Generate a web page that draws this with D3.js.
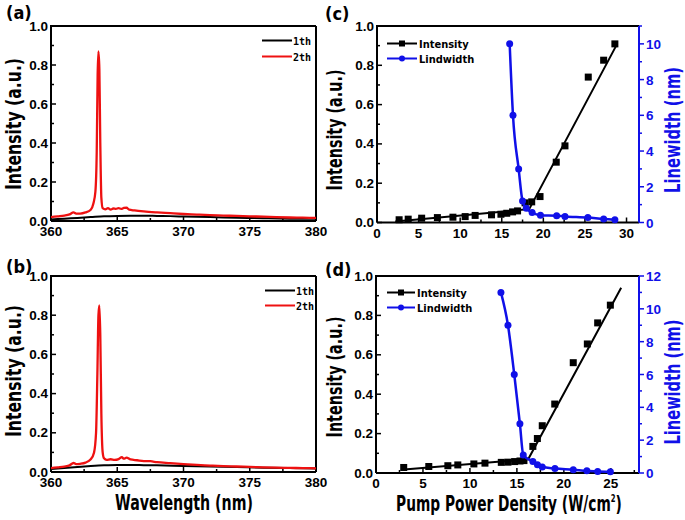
<!DOCTYPE html>
<html><head><meta charset="utf-8">
<script src="https://cdn.jsdelivr.net/npm/d3@7"></script>
<style>
html,body{margin:0;padding:0;background:#fff;}
svg text{font-family:"Liberation Sans",Arial,sans-serif;}
</style></head>
<body>
<svg id="chart" width="685" height="520"></svg>
<script>
// ---------- DATA ----------
// (a) spectra
const wlA2 = [360,360.5,361,361.4,361.7,361.9,362.2,362.6,363.0,363.2,363.35,363.45,363.52,363.58,363.65,363.72,363.8,363.9,364.1,364.3,364.5,364.7,364.9,365.1,365.3,365.5,365.7,365.9,366.3,367,368,369,370,371,372,373,374,375,376,377,378,379,380];
const intA2 = [0.02,0.024,0.028,0.034,0.044,0.038,0.038,0.044,0.058,0.09,0.15,0.35,0.75,0.87,0.78,0.4,0.12,0.066,0.06,0.066,0.058,0.064,0.062,0.066,0.062,0.067,0.068,0.058,0.054,0.049,0.044,0.04,0.036,0.033,0.03,0.028,0.026,0.024,0.022,0.02,0.018,0.017,0.016];
const wlA1 = [360,361,362,363,364,365,366,367,368,369,370,372,374,376,378,380];
const intA1 = [0.008,0.012,0.016,0.02,0.024,0.026,0.027,0.027,0.026,0.025,0.023,0.02,0.017,0.014,0.012,0.011];
// (b) spectra
const wlB2 = [360,360.5,361,361.4,361.7,361.9,362.2,362.6,363.0,363.25,363.4,363.5,363.58,363.65,363.72,363.8,363.9,364.0,364.2,364.5,364.8,365.1,365.35,365.5,365.7,366,366.5,367,367.5,368,369,370,371,372,373,374,375,376,377,378,379,380];
const intB2 = [0.02,0.024,0.028,0.034,0.046,0.04,0.042,0.048,0.065,0.1,0.2,0.5,0.8,0.85,0.7,0.3,0.1,0.07,0.062,0.065,0.062,0.066,0.076,0.068,0.073,0.064,0.06,0.056,0.055,0.05,0.045,0.04,0.036,0.033,0.03,0.028,0.026,0.024,0.022,0.021,0.02,0.019];
const wlB1 = [360,361,362,363,364,365,366,367,368,370,372,374,376,378,380];
const intB1 = [0.015,0.02,0.025,0.03,0.034,0.036,0.036,0.035,0.034,0.031,0.028,0.025,0.022,0.02,0.018];
// (c) intensity & linewidth vs pump
const powerC = [2.66,3.75,5.37,7.26,9.13,10.6,11.8,13.77,14.9,15.6,16.3,16.9,17.8,18.6,19.6,21.55,22.6,25.4,27.25,28.6];
const intensC = [0.014,0.017,0.022,0.025,0.027,0.03,0.036,0.039,0.042,0.047,0.054,0.059,0.10,0.105,0.132,0.307,0.39,0.74,0.826,0.909];
const fitPowerC = [2.2,18.3,28.7];
const fitIntC = [0.005,0.068,0.895];
const lwPowerC = [15.95,16.35,17.03,17.5,17.95,18.65,19.65,21.6,22.6,25.35,27.25,28.6];
const lwC = [10,6,3,1.2,0.8,0.56,0.41,0.38,0.34,0.28,0.19,0.15];
// (d)
const powerD = [2.95,5.62,7.65,8.71,10.42,11.6,13.34,14.05,14.76,15.33,15.75,16.7,17.18,17.7,19.03,21.0,22.5,23.6,24.95];
const intensD = [0.028,0.033,0.037,0.041,0.046,0.05,0.054,0.055,0.058,0.061,0.063,0.135,0.175,0.24,0.35,0.56,0.655,0.762,0.852];
const fitPowerD = [3.0,16.2,26.1];
const fitIntD = [0.018,0.07,0.94];
const lwPowerD = [13.3,14.05,14.72,15.32,15.68,16.7,17.19,17.7,19.05,21.0,22.45,23.6,24.95];
const lwD = [11,9,6,3,1.1,0.7,0.5,0.36,0.28,0.2,0.13,0.09,0.08];
// ticks
const wlTicks = [360,365,370,375,380];
const intTicks = [0,0.2,0.4,0.6,0.8,1.0];
const powerTicksC = [0,5,10,15,20,25,30];
const powerTicksD = [0,5,10,15,20,25];
const lwTicksC = [0,2,4,6,8,10];
const lwTicksD = [0,2,4,6,8,10,12];

// ---------- DRAW ----------
const svg = d3.select("#chart");
const BLUE = "#1010e8", RED = "#ee1111";
const narrow = '"Liberation Sans Narrow","Arial Narrow","DejaVu Sans Condensed",sans-serif';

function fitLabel(x, y, rot, txt, len, size, color, sup) {
  const g = svg.append("g");
  const t = g.append("text").attr("text-anchor","middle")
    .style("font-family", narrow).style("font-weight","bold")
    .style("font-size", size+"px").attr("fill", color || "#000");
  t.append("tspan").text(txt);
  if (sup) {
    t.append("tspan").attr("dy",-9).style("font-size",(size*0.5)+"px").text(sup);
    t.append("tspan").attr("dy",9).text(")");
  }
  const w = t.node().getBBox().width;
  g.attr("transform", `translate(${x},${y}) rotate(${rot}) scale(${len/w},1)`);
}

function panel(o) {
  const x = d3.scaleLinear().domain(o.xDom).range([o.L, o.R]);
  const y = d3.scaleLinear().domain([0,1]).range([o.B, o.T]);
  const g = svg.append("g");
  const minorX = [];
  for (let i = 0; i < o.xTicks.length - 1; i++) minorX.push((o.xTicks[i]+o.xTicks[i+1])/2);
  if (o.xMinorExtra) minorX.push(...o.xMinorExtra);
  g.selectAll(".mx").data(minorX).join("line")
    .attr("x1", d=>x(d)).attr("x2", d=>x(d)).attr("y1", o.B).attr("y2", o.B-3)
    .attr("stroke","#000").attr("stroke-width",1.5);
  g.selectAll(".Mx").data(o.xTicks).join("line")
    .attr("x1", d=>x(d)).attr("x2", d=>x(d)).attr("y1", o.B).attr("y2", o.B-5)
    .attr("stroke","#000").attr("stroke-width",1.5);
  const minorY = [0.1,0.3,0.5,0.7,0.9];
  g.selectAll(".my").data(minorY).join("line")
    .attr("x1", o.L).attr("x2", o.L+3).attr("y1", d=>y(d)).attr("y2", d=>y(d))
    .attr("stroke","#000").attr("stroke-width",1.5);
  g.selectAll(".My").data(intTicks).join("line")
    .attr("x1", o.L).attr("x2", o.L+5).attr("y1", d=>y(d)).attr("y2", d=>y(d))
    .attr("stroke","#000").attr("stroke-width",1.5);
  g.selectAll(".xl").data(o.xTicks).join("text")
    .attr("x", d=>x(d)).attr("y", o.B+15).attr("text-anchor","middle")
    .style("font-size","13.5px").style("font-weight","bold").text(d=>d);
  g.selectAll(".yl").data(intTicks).join("text")
    .attr("x", o.L-3).attr("y", d=>y(d)+4.5).attr("text-anchor","end")
    .style("font-size","13.5px").style("font-weight","bold").text(d=>d.toFixed(1));
  g.append("path").attr("d", `M${o.L},${o.B}H${o.R}`).attr("stroke","#000").attr("stroke-width",2);
  g.append("path").attr("d", `M${o.L},${o.B}V${o.T}H${o.R}`).attr("fill","none").attr("stroke","#000").attr("stroke-width",2);
  g.append("path").attr("d", `M${o.R},${o.T}V${o.B}`).attr("stroke", o.y2 ? BLUE : "#000").attr("stroke-width",2);
  return {x, y, g};
}

function spectrum(p, wl, val, color, w) {
  p.g.append("path").datum(d3.zip(wl, val))
    .attr("d", d3.line().x(d=>p.x(d[0])).y(d=>p.y(d[1])).curve(d3.curveMonotoneX))
    .attr("fill","none").attr("stroke", color).attr("stroke-width", w).attr("stroke-linejoin","round");
}

function specLegend(x, y1, y2) {
  [[y1,"#000","1th"],[y2,RED,"2th"]].forEach(([yy,c,t])=>{
    svg.append("line").attr("x1",x).attr("x2",x+30).attr("y1",yy).attr("y2",yy).attr("stroke",c).attr("stroke-width",2);
    svg.append("text").attr("x",x+31).attr("y",yy+4).style("font-family",'"DejaVu Sans Mono",monospace')
      .style("font-size","10px").style("font-weight","bold").text(t);
  });
}

// (a)
const pA = panel({L:51,R:316,T:26,B:221,xDom:[360,380],xTicks:wlTicks});
spectrum(pA, wlA1, intA1, "#000", 2);
spectrum(pA, wlA2, intA2, RED, 2.3);
specLegend(262, 40.5, 56.5);
// (b)
const pB = panel({L:51,R:316,T:276,B:472,xDom:[360,380],xTicks:wlTicks});
spectrum(pB, wlB1, intB1, "#000", 2);
spectrum(pB, wlB2, intB2, RED, 2.3);
specLegend(265, 290.5, 305.5);

function pumpPanel(o) {
  const p = panel(Object.assign({y2:true}, o));
  const y2 = d3.scaleLinear().domain(o.y2Dom).range([o.B, o.T]);
  const minorY2 = [];
  for (let i = 0; i < o.y2Ticks.length - 1; i++) minorY2.push((o.y2Ticks[i]+o.y2Ticks[i+1])/2);
  if (o.y2Dom[1] > o.y2Ticks[o.y2Ticks.length-1]) minorY2.push(o.y2Ticks[o.y2Ticks.length-1]+1);
  p.g.selectAll(".m2").data(minorY2).join("line")
    .attr("x1", o.R).attr("x2", o.R+3).attr("y1", d=>y2(d)).attr("y2", d=>y2(d))
    .attr("stroke",BLUE).attr("stroke-width",1.5);
  p.g.selectAll(".M2").data(o.y2Ticks).join("line")
    .attr("x1", o.R).attr("x2", o.R+5).attr("y1", d=>y2(d)).attr("y2", d=>y2(d))
    .attr("stroke",BLUE).attr("stroke-width",1.5);
  p.g.selectAll(".l2").data(o.y2Ticks).join("text")
    .attr("x", o.R+7).attr("y", d=>y2(d)+5).attr("fill",BLUE)
    .style("font-size","13.5px").style("font-weight","bold").text(d=>d);
  p.g.append("path").datum(d3.zip(o.fitX, o.fitY))
    .attr("d", d3.line().x(d=>p.x(d[0])).y(d=>p.y(d[1])))
    .attr("fill","none").attr("stroke","#000").attr("stroke-width",2);
  p.g.selectAll(".sq").data(d3.zip(o.px, o.py)).join("rect")
    .attr("x", d=>p.x(d[0])-3.5).attr("y", d=>p.y(d[1])-3.5).attr("width",7).attr("height",7).attr("fill","#000");
  p.g.append("path").datum(d3.zip(o.lx, o.ly))
    .attr("d", d3.line().x(d=>p.x(d[0])).y(d=>y2(d[1])).curve(d3.curveMonotoneX))
    .attr("fill","none").attr("stroke",BLUE).attr("stroke-width",2.5);
  p.g.selectAll(".ci").data(d3.zip(o.lx, o.ly)).join("circle")
    .attr("cx", d=>p.x(d[0])).attr("cy", d=>y2(d[1])).attr("r",3.5).attr("fill",BLUE);
  const lx = o.legX, ly = o.legY;
  [[ly,"#000","Intensity","sq"],[ly+15,BLUE,"Lindwidth","ci"]].forEach(([yy,c,t,m])=>{
    svg.append("line").attr("x1",lx).attr("x2",lx+o.legW).attr("y1",yy).attr("y2",yy).attr("stroke",c).attr("stroke-width",2);
    if (m==="sq") svg.append("rect").attr("x",lx+o.legW/2-3).attr("y",yy-3).attr("width",6).attr("height",6).attr("fill",c);
    else svg.append("circle").attr("cx",lx+o.legW/2).attr("cy",yy).attr("r",3).attr("fill",c);
    svg.append("text").attr("x",lx+o.legW+2).attr("y",yy+4).style("font-family",narrow)
      .style("font-size","11px").style("font-weight","bold").text(t);
  });
  return p;
}

pumpPanel({L:377,R:639,T:26,B:222.5,xDom:[0,31.5],xTicks:powerTicksC,xMinorExtra:[],
  y2Dom:[0,11],y2Ticks:lwTicksC,px:powerC,py:intensC,fitX:fitPowerC,fitY:fitIntC,
  lx:lwPowerC,ly:lwC,legX:387,legY:43.5,legW:30});
pumpPanel({L:376,R:639,T:276,B:473,xDom:[0,28],xTicks:powerTicksD,xMinorExtra:[27.5],
  y2Dom:[0,12],y2Ticks:lwTicksD,px:powerD,py:intensD,fitX:fitPowerD,fitY:fitIntD,
  lx:lwPowerD,ly:lwD,legX:387,legY:292.5,legW:28});

// axis titles
fitLabel(21,124,-90,"Intensity (a.u.)",132,22);
fitLabel(21,371,-90,"Intensity (a.u.)",132,22);
fitLabel(342,130,-90,"Intensity (a.u.)",121,22);
fitLabel(342,377,-90,"Intensity (a.u.)",121,22);
fitLabel(680,130,-90,"Linewidth (nm)",126,22,BLUE);
fitLabel(680,382,-90,"Linewidth (nm)",125,22,BLUE);
fitLabel(184,510,0,"Wavelength (nm)",138,21);
fitLabel(509,511,0,"Pump Power Density (W/cm",226,21,"#000","2");

// panel labels
[["(a)",6,19],["(c)",325,20],["(b)",6,273],["(d)",325,276]].forEach(([t,x,y])=>{
  svg.append("text").attr("x",x).attr("y",y).style("font-family",narrow)
    .style("font-size","18px").style("font-weight","bold").text(t);
});
</script>
</body></html>
